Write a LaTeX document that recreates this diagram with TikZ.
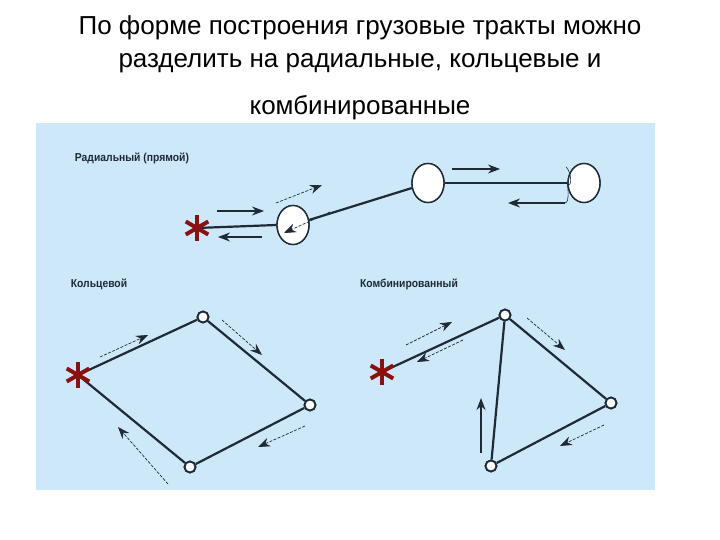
\documentclass[tikz,border=0pt]{standalone}
\usepackage{fontspec}
\setmainfont{Liberation Sans}
\usetikzlibrary{arrows.meta,shapes.geometric}
\definecolor{panel}{HTML}{CDE9F9}
\definecolor{ink}{HTML}{1E2A36}
\definecolor{starred}{HTML}{8B1010}
\tikzset{
  route/.style={draw=ink,line width=2.2pt},
  big/.style={ellipse,draw=ink,line width=1.4pt,fill=white,minimum width=32pt,minimum height=39pt,inner sep=0pt},
  small/.style={circle,draw=ink,line width=1.8pt,fill=white,minimum size=11pt,inner sep=0pt},
  stararm/.style={draw=starred,line width=4pt},
  solidarr/.style={draw=ink,line width=1.1pt,-{Stealth[length=12pt,width=9pt]}},
  dasharr/.style={draw=ink,line width=0.7pt,dash pattern=on 3pt off 1.5pt,-{Stealth[length=12pt,width=9pt]}},
  lab/.style={font=\fontsize{11.5}{11.5}\selectfont\bfseries,text=ink,anchor=west,inner sep=0pt},
  ttl/.style={font=\fontsize{26}{26}\selectfont}
}
\newcommand{\mystar}[1]{\foreach \ang in {90,150,210,270,330,30}{\draw[stararm] (#1) -- ++(\ang:13pt);}}
\begin{document}
\begin{tikzpicture}[x=1pt,y=-1pt]
\useasboundingbox (0,0) rectangle (720,540);
\fill[panel] (36,123) rectangle (655,490);
\node[ttl] (t1) at (360,28) {По форме построения грузовые тракты можно};
\node[ttl] (t2) at (360,63) {разделить на радиальные, кольцевые и};
\node[ttl] (t3) at (360,108) {комбинированные};
% radial
\node[lab,xscale=0.9,anchor=center] (l1) at (132,158) {Радиальный (прямой)};
\coordinate (s1c) at (197,228);
\node[big] (c1) at (293,225) {};
\node[big] (c2) at (428,183) {};
\node[big] (c3) at (584,183) {};
\draw[route] (s1c) -- (c1.west);
\draw[route] (c1) -- (c2);
\draw[draw=ink,line width=1.5pt] (c2) -- (c3);
\node[big] at (293,225) {};
\node[big] at (428,183) {};
\node[big] at (584,183) {};
\mystar{s1c}
\coordinate (a1s) at (217,211); \coordinate (a1e) at (264,211);
\draw[solidarr] (a1s) -- (a1e);
\coordinate (a2s) at (262,237); \coordinate (a2e) at (218,237);
\draw[solidarr] (a2s) -- (a2e);
\coordinate (a3s) at (276,203); \coordinate (a3e) at (322,185);
\draw[dasharr] (a3s) -- (a3e);
\coordinate (a4s) at (330,212); \coordinate (a4e) at (284,233);
\draw[dasharr] (a4s) -- (a4e);
\coordinate (a5s) at (452,169); \coordinate (a5e) at (500,169);
\draw[solidarr] (a5s) -- (a5e);
\coordinate (a6s) at (565,203); \coordinate (a6e) at (508,203);
\draw[solidarr] (a6s) -- (a6e);
\coordinate (h1) at (566,167);
\draw[draw=ink,line width=0.6pt] (h1) .. controls (572,172) and (572,190) .. (c3.west);
\draw[draw=ink,line width=0.6pt] (a6s) .. controls (568,203) and (569,196) .. (c3.west);
% ring
\node[lab,xscale=0.9,anchor=center] (l2) at (99,284) {Кольцевой};
\coordinate (s2c) at (78,375);
\node[small] (r1) at (203,317) {};
\node[small] (r2) at (310,405) {};
\node[small] (r3) at (190,467) {};
\draw[route] (s2c) -- (r1) -- (r2) -- (r3) -- (s2c);
\node[small] at (203,317) {};
\node[small] at (310,405) {};
\node[small] at (190,467) {};
\mystar{s2c}
\coordinate (b1s) at (100,357); \coordinate (b1e) at (148,335);
\draw[dasharr] (b1s) -- (b1e);
\coordinate (b2s) at (222,320); \coordinate (b2e) at (262,355);
\draw[dasharr] (b2s) -- (b2e);
\coordinate (b3s) at (305,426); \coordinate (b3e) at (258,447);
\draw[dasharr] (b3s) -- (b3e);
\coordinate (b4s) at (168,484); \coordinate (b4e) at (118,427);
\draw[dasharr] (b4s) -- (b4e);
% combined
\node[lab,xscale=0.9,anchor=center] (l3) at (409,284) {Комбинированный};
\coordinate (s3c) at (382,372);
\node[small] (k1) at (505,315) {};
\node[small] (k2) at (611,403) {};
\node[small] (k3) at (491,466) {};
\draw[route] (s3c) -- (k1) -- (k2) -- (k3) -- (k1);
\node[small] at (505,315) {};
\node[small] at (611,403) {};
\node[small] at (491,466) {};
\mystar{s3c}
\coordinate (d1s) at (406,345); \coordinate (d1e) at (452,322);
\draw[dasharr] (d1s) -- (d1e);
\coordinate (d2s) at (463,340); \coordinate (d2e) at (417,362);
\draw[dasharr] (d2s) -- (d2e);
\coordinate (d3s) at (527,318); \coordinate (d3e) at (565,350);
\draw[dasharr] (d3s) -- (d3e);
\coordinate (d4s) at (604,425); \coordinate (d4e) at (560,446);
\draw[dasharr] (d4s) -- (d4e);
\coordinate (d5s) at (481,453); \coordinate (d5e) at (481,398);
\draw[solidarr] (d5s) -- (d5e);
\end{tikzpicture}
\end{document}
